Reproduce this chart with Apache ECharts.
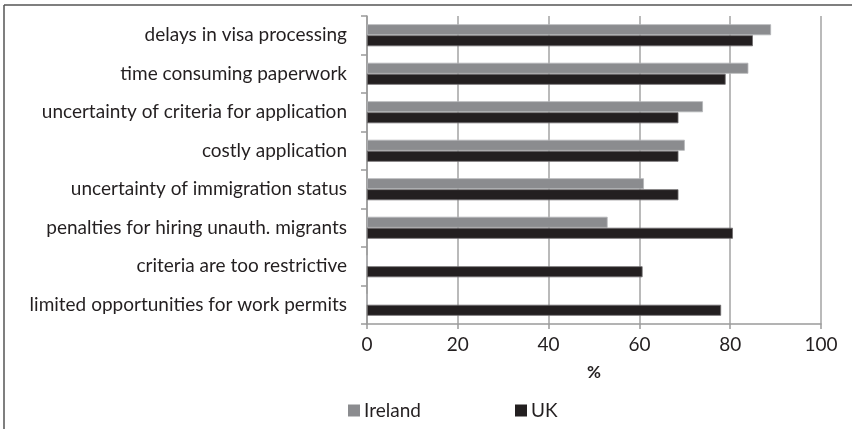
<!DOCTYPE html>
<html>
<head>
<meta charset="utf-8">
<script src="https://cdn.jsdelivr.net/npm/echarts@6/dist/echarts.min.js"></script>
<style>
  html, body { margin: 0; padding: 0; background: #fff; }
  #main { width: 852px; height: 429px; }
</style>
</head>
<body>
<div id="main"></div>
<script>
// categories top to bottom
var categories = [
  'delays in visa processing',
  'time consuming paperwork',
  'uncertainty of criteria for application',
  'costly application',
  'uncertainty of immigration status',
  'penalties for hiring unauth. migrants',
  'criteria are too restrictive',
  'limited opportunities for work permits'
];
var ireland = [89, 84, 74, 70, 61, 53, 0, 0];
var uk = [85, 79, 68.6, 68.6, 68.6, 80.6, 60.7, 78];
var xTicks = [0, 20, 40, 60, 80, 100];

var fontFam = 'Lato, "Open Sans", sans-serif';
var txtColor = '#231f20';

var chart = echarts.init(document.getElementById('main'));
chart.setOption({
  backgroundColor: '#fff',
  animation: false,
  textStyle: { fontFamily: fontFam },
  grid: { left: 367, right: 31, top: 16, bottom: 105, containLabel: false },
  graphic: [
    { type: 'line', shape: { x1: 4, y1: 5, x2: 852, y2: 5 }, style: { stroke: '#555', lineWidth: 1.5 } },
    { type: 'line', shape: { x1: 4, y1: 5, x2: 4, y2: 429 }, style: { stroke: '#555', lineWidth: 1.5 } }
  ],
  legend: [
    {
      data: ['Ireland'], left: 343, top: 396, icon: 'rect', itemWidth: 12, itemHeight: 12, itemGap: 6,
      itemStyle: { borderWidth: 0 },
      textStyle: { fontSize: 19, color: txtColor, fontFamily: fontFam, padding: [0, 0, 0, -1] }
    },
    {
      data: ['UK'], left: 510, top: 396, icon: 'rect', itemWidth: 12, itemHeight: 12, itemGap: 6,
      itemStyle: { borderWidth: 0 },
      textStyle: { fontSize: 19, color: txtColor, fontFamily: fontFam, padding: [0, 0, 0, -1] }
    }
  ],
  xAxis: {
    type: 'value', min: xTicks[0], max: xTicks[xTicks.length - 1], interval: 20,
    name: '%', nameLocation: 'middle', nameGap: 40,
    nameTextStyle: { fontSize: 17, fontWeight: 'bold', color: txtColor, fontFamily: fontFam },
    axisLine: { show: true, lineStyle: { color: '#9a9a9a', width: 1.5 } },
    axisTick: { show: true, length: 5, lineStyle: { color: '#9a9a9a', width: 1.5 } },
    axisLabel: { fontSize: 19, color: txtColor, margin: 11 },
    splitLine: { show: true, lineStyle: { color: '#a3a3a3', width: 1.5 } }
  },
  yAxis: {
    type: 'category', data: categories, inverse: true,
    axisLine: { show: true, lineStyle: { color: '#9a9a9a', width: 1.5 } },
    axisTick: { show: true, length: 6, lineStyle: { color: '#9a9a9a', width: 1.5 } },
    axisLabel: { fontSize: 19, color: txtColor, margin: 20 }
  },
  series: [
    {
      name: 'Ireland', type: 'bar', data: ireland, barWidth: 11, barGap: '0%',
      itemStyle: { color: '#8b8c8f', borderColor: '#b4b5b7', borderWidth: 0.8 }
    },
    {
      name: 'UK', type: 'bar', data: uk, barWidth: 11, barGap: '0%',
      itemStyle: { color: '#231f20', borderColor: '#6e6c6d', borderWidth: 0.8 }
    }
  ]
});
</script>
</body>
</html>
